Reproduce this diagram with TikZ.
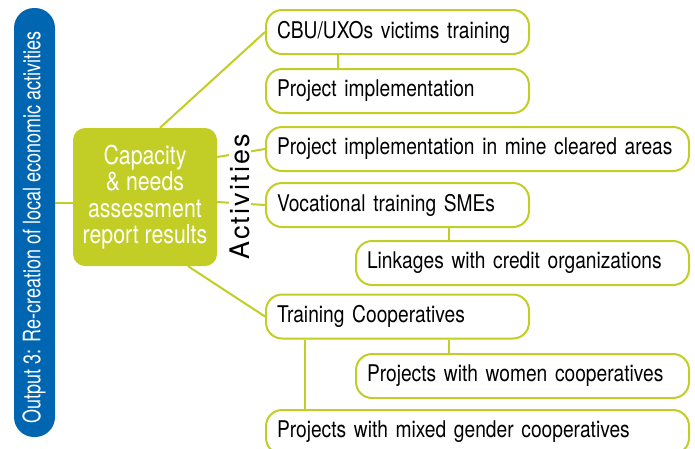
\documentclass[tikz,border=0pt]{standalone}
\usepackage{fontspec}
\newfontfamily\boxfont[FakeStretch=0.835]{TeX Gyre Heros}
\newfontfamily\greenfont[FakeStretch=0.82]{TeX Gyre Heros}
\newfontfamily\barfont[FakeStretch=0.75]{TeX Gyre Heros}
\newfontfamily\actfont[LetterSpace=8]{TeX Gyre Heros}
\definecolor{olive}{RGB}{194,205,37}
\definecolor{barblue}{RGB}{0,102,177}
\begin{document}
\begin{tikzpicture}[x=1pt,y=-1pt,
  conn/.style={draw=olive,line width=2pt},
  actbox/.style={draw=olive,line width=2pt,fill=white,rounded corners=16pt,anchor=west,
    minimum height=44pt,inner xsep=11pt,inner ysep=0pt,align=left,
    font=\boxfont\fontsize{23}{25}\selectfont},
  ]
\useasboundingbox (0,0) rectangle (695,448);
\clip (0,0) rectangle (695,448);
% blue bar
\node[fill=barblue,rounded corners=20pt,minimum width=41pt,minimum height=429pt,inner sep=0pt] (bar) at (34.5,222.5) {};
\node[rotate=90,text=white,font=\barfont\fontsize{24}{26}\selectfont,inner sep=0pt] (bartext) at (34,227.5) {Output 3: Re-creation of local economic activities};
% green box
\node[fill=olive,rounded corners=12pt,minimum width=144pt,minimum height=138pt,inner sep=0pt,
  text=white,align=center,font=\greenfont\fontsize{26}{26.5}\selectfont] (g) at (145,197) {Capacity\\ \& needs\\ assessment\\ report results};
% activity boxes
\node[actbox,text width=241pt] (b1) at (265,32) {\mbox{CBU/UXOs victims training}};
\node[actbox,text width=241pt] (b2) at (265,91) {\mbox{Project implementation}};
\node[actbox,text width=401pt] (b3) at (265,149) {\mbox{Project implementation in mine cleared areas}};
\node[actbox,text width=241pt] (b4) at (265,205) {\mbox{Vocational training SMEs}};
\node[actbox,text width=311pt] (b5) at (355,263) {\mbox{Linkages with credit organizations}};
\node[actbox,text width=241pt] (b6) at (265,316.5) {\mbox{Training Cooperatives}};
\node[actbox,text width=311pt] (b7) at (355,376) {\mbox{Projects with women cooperatives}};
\node[actbox,text width=401pt] (b8) at (265,432) {\mbox{Projects with mixed gender cooperatives}};
% connectors
\draw[conn] ([yshift=-6pt]g.west) -- ([yshift=-6pt]g.west -| bar.east);
\draw[conn] ([xshift=15pt]g.north) -- (b1.west);
\draw[conn] ([yshift=40pt]g.east) -- (b3.west);
\draw[conn] ([yshift=-5pt]g.east) -- (b4.west);
\draw[conn] ([xshift=43pt]g.south) -- (b6.west);
\draw[conn] ([xshift=-60pt]b1.south) -- ([xshift=-60pt]b1.south |- b2.north);
\draw[conn] ([xshift=51.5pt]b4.south) -- ([xshift=51.5pt]b4.south |- b5.north);
\draw[conn] ([xshift=51.5pt]b6.south) -- ([xshift=51.5pt]b6.south |- b7.north);
\draw[conn] ([xshift=-92.5pt]b6.south) -- ([xshift=-92.5pt]b6.south |- b8.north);
% Activities label
\node[rotate=90,fill=white,inner sep=1pt,font=\actfont\fontsize{27}{29}\selectfont] (act) at (240,197) {Activities};
\end{tikzpicture}
\end{document}
